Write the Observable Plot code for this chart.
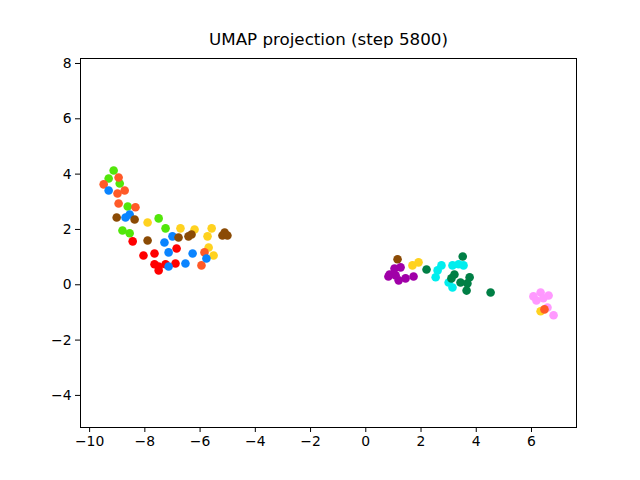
<!DOCTYPE html>
<html>
<head>
<meta charset="utf-8">
<script src="https://cdn.jsdelivr.net/npm/d3@7"></script>
<script src="https://cdn.jsdelivr.net/npm/@observablehq/plot@0.6"></script>
<style>
  body { margin: 0; background: #fff; }
  #chart { width: 640px; height: 480px; }
</style>
</head>
<body>
<div id="chart"></div>
<script>
const title = "UMAP projection (step 5800)";
const xTicks = [-10, -8, -6, -4, -2, 0, 2, 4, 6];
const yTicks = [-4, -2, 0, 2, 4, 6, 8];

const groupNames = ["class J", "class E", "class A", "class B", "class F", "class C", "class D", "class G", "class H", "class I"];
const groupColors = ["#ff99ff", "#ffd21f", "#52e60a", "#ff5a28", "#ff0000", "#0a84ff", "#8b4b05", "#a000a8", "#00eeee", "#007f45"];

const pinkX = [6.07, 6.33, 6.62, 6.18, 6.43, 6.58, 6.80];
const pinkY = [-0.42, -0.28, -0.39, -0.57, -0.49, -0.82, -1.10];

const yellowX = [-7.90, -6.71, -6.20, -5.58, -5.73, -5.69, -5.51, 1.69, 1.91, 6.33];
const yellowY = [2.25, 2.04, 2.00, 2.04, 1.75, 1.35, 1.06, 0.70, 0.81, -0.96];

const greenX = [-9.13, -9.31, -8.91, -8.62, -7.50, -8.81, -8.55, -7.25];
const greenY = [4.13, 3.84, 3.66, 2.83, 2.40, 1.96, 1.86, 2.04];

const orangeX = [-8.95, -9.49, -8.99, -8.73, -8.95, -8.34, -5.84, -5.95, 6.47];
const orangeY = [3.88, 3.63, 3.30, 3.41, 2.94, 2.80, 1.17, 0.70, -0.89];

const redX = [-8.44, -8.05, -7.65, -6.85, -7.65, -7.50, -7.50, -7.25, -6.89];
const redY = [1.57, 1.06, 1.13, 1.31, 0.74, 0.52, 0.66, 0.74, 0.77];

const blueX = [-9.31, -8.70, -8.55, -7.29, -7.00, -7.14, -6.27, -5.77, -7.14, -6.53];
const blueY = [3.41, 2.43, 2.54, 1.53, 1.75, 1.17, 1.13, 0.95, 0.66, 0.77];

const brownX = [-9.02, -8.37, -7.90, -6.78, -6.42, -6.31, -5.11, -5.19, -5.01, 1.15];
const brownY = [2.43, 2.36, 1.60, 1.71, 1.75, 1.82, 1.89, 1.78, 1.78, 0.92];

const purpleX = [0.86, 1.04, 1.26, 1.08, 1.19, 1.44, 1.73, 0.82];
const purpleY = [0.37, 0.59, 0.63, 0.34, 0.16, 0.23, 0.30, 0.30];

const cyanX = [2.74, 2.60, 2.53, 3.14, 3.36, 3.54, 3.00, 3.14];
const cyanY = [0.70, 0.52, 0.27, 0.70, 0.74, 0.70, 0.08, -0.10];

const darkgreenX = [2.20, 3.51, 3.21, 3.43, 3.76, 3.68, 3.65, 4.52, 3.10];
const darkgreenY = [0.55, 1.02, 0.37, 0.08, 0.27, 0.05, -0.21, -0.28, 0.23];

const seriesX = [pinkX, yellowX, greenX, orangeX, redX, blueX, brownX, purpleX, cyanX, darkgreenX];
const seriesY = [pinkY, yellowY, greenY, orangeY, redY, blueY, brownY, purpleY, cyanY, darkgreenY];

const points = [];
groupNames.forEach((g, i) => {
  seriesX[i].forEach((x, j) => points.push({group: g, x, y: seriesY[i][j]}));
});

const fmt = d => d < 0 ? "\u2212" + Math.abs(d) : String(d);

const chart = Plot.plot({
  width: 640,
  height: 480,
  marginLeft: 80,
  marginRight: 64,
  marginTop: 58,
  marginBottom: 53,
  style: {fontFamily: "DejaVu Sans", fontSize: "13.9px", background: "#fff", color: "#000"},
  x: {domain: [-10.33, 7.63], ticks: xTicks, tickFormat: fmt, tickSize: 5, tickPadding: 4, label: null},
  y: {domain: [-5.16, 8.18], ticks: yTicks, tickFormat: fmt, tickSize: 5, tickPadding: 4, label: null},
  color: {type: "ordinal", domain: groupNames, range: groupColors},
  marks: [
    Plot.dot(points, {x: "x", y: "y", fill: "group", r: 4.3, stroke: null}),
    Plot.frame({stroke: "#000", strokeWidth: 1}),
    Plot.axisX({ticks: xTicks, tickFormat: fmt, tickSize: 5, tickPadding: 4, label: null, stroke: "#000", strokeOpacity: 1}),
    Plot.axisY({ticks: yTicks, tickFormat: fmt, tickSize: 5, tickPadding: 4, label: null, stroke: "#000", strokeOpacity: 1}),
    Plot.text([title], {frameAnchor: "top", dy: -14, text: d => d, fontSize: 16.7, fill: "#000", lineAnchor: "bottom"})
  ]
});
document.getElementById("chart").appendChild(chart);
</script>
</body>
</html>
